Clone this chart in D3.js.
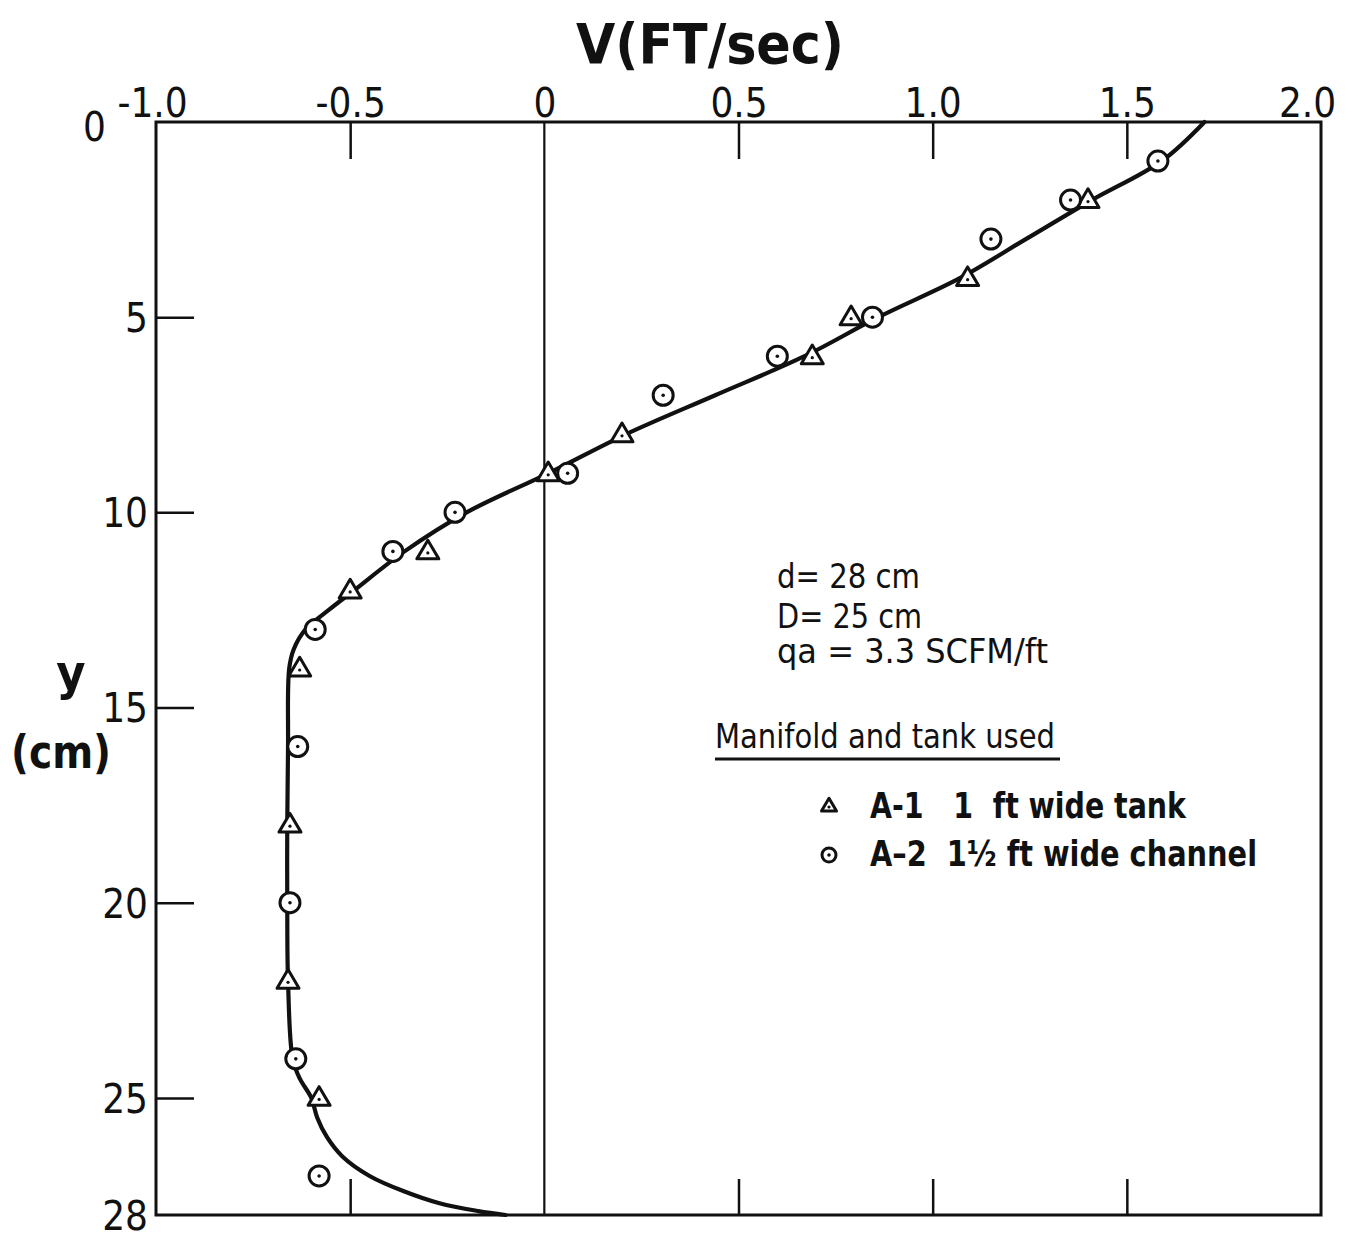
<!DOCTYPE html>
<html>
<head>
<meta charset="utf-8">
<script src="https://cdn.jsdelivr.net/npm/d3@7"></script>
<style>
  body { margin: 0; background: #fff; }
  svg text { font-family: "DejaVu Sans Condensed", "DejaVu Sans", sans-serif; font-stretch: condensed; fill: #111; white-space: pre; }
</style>
</head>
<body>
<div id="chart"></div>
<script>
// tick values
var xTicks = [-1.0, -0.5, 0, 0.5, 1.0, 1.5, 2.0];
var xTickLabels = ["-1.0", "-0.5", "0", "0.5", "1.0", "1.5", "2.0"];
var yTicks = [0, 5, 10, 15, 20, 25, 28];

// A-1  1 ft wide tank (triangles)
var a1V = [1.40, 1.09, 0.79, 0.69, 0.20, 0.01, -0.30, -0.50, -0.63, -0.655, -0.66, -0.58];
var a1Y = [2, 4, 5, 6, 8, 9, 11, 12, 14, 18, 22, 25];

// A-2  1 1/2 ft wide channel (circles)
var a2V = [1.58, 1.355, 1.15, 0.845, 0.60, 0.306, 0.06, -0.23, -0.39, -0.59, -0.635, -0.655, -0.64, -0.58];
var a2Y = [1, 2, 3, 5, 6, 7, 9, 10, 11, 13, 16, 20, 24, 27];

// fitted curve
var curveY = [0, 1, 2, 3, 4, 5, 6, 7, 8, 9, 10, 11, 12, 12.5, 13, 13.5, 14, 16, 18, 20, 22, 24, 24.5, 25, 25.5, 26, 26.5, 27, 27.4, 27.7, 27.9, 28];
var curveV = [1.70, 1.59, 1.41, 1.24, 1.07, 0.86, 0.67, 0.44, 0.21, 0.01, -0.20, -0.36, -0.49, -0.555, -0.615, -0.645, -0.657, -0.66, -0.662, -0.662, -0.66, -0.648, -0.63, -0.60, -0.585, -0.56, -0.52, -0.45, -0.36, -0.27, -0.17, -0.10];

var W = 1359, H = 1239;
var pLeft = 156, pRight = 1321, pTop = 122, pBottom = 1215;

var svg = d3.select("#chart").append("svg")
  .attr("width", W)
  .attr("height", H);

var x = d3.scaleLinear().domain([-1, 2]).range([pLeft, pRight]);
var y = d3.scaleLinear().domain([0, 28]).range([pTop, pBottom]);

// frame
svg.append("rect")
  .attr("x", pLeft).attr("y", pTop)
  .attr("width", pRight - pLeft).attr("height", pBottom - pTop)
  .attr("fill", "none").attr("stroke", "#111").attr("stroke-width", 3);

// zero line
svg.append("line")
  .attr("x1", x(0)).attr("x2", x(0))
  .attr("y1", pTop).attr("y2", pBottom)
  .attr("stroke", "#111").attr("stroke-width", 2.2);

// top axis
var topAxis = svg.append("g")
  .attr("transform", "translate(0," + pTop + ")")
  .call(d3.axisTop(x).tickValues(xTicks).tickSize(-37).tickPadding(5)
    .tickFormat(function(d, i) { return xTickLabels[i]; }));
topAxis.select(".domain").remove();
topAxis.selectAll(".tick line")
  .attr("stroke", "#111").attr("stroke-width", 2.5)
  .filter(function(d) { return d == -1 || d == 0 || d == 2; }).remove();
topAxis.selectAll(".tick text")
  .style("font-size", "40px").attr("fill", "#111")
  .attr("dx", function(d) { return d == -1 ? -4 : (d == 2 ? -14 : 0); });

// bottom ticks (no labels)
var botAxis = svg.append("g")
  .attr("transform", "translate(0," + pBottom + ")")
  .call(d3.axisBottom(x).tickValues([-0.5, 0.5, 1.0, 1.5]).tickSize(-36).tickFormat(""));
botAxis.select(".domain").remove();
botAxis.selectAll(".tick line").attr("stroke", "#111").attr("stroke-width", 2.5);

// left axis
var leftAxis = svg.append("g")
  .attr("transform", "translate(" + pLeft + ",0)")
  .call(d3.axisLeft(y).tickValues(yTicks).tickSize(-38).tickPadding(8));
leftAxis.select(".domain").remove();
leftAxis.selectAll(".tick line")
  .attr("stroke", "#111").attr("stroke-width", 2.5)
  .filter(function(d) { return d == 0 || d == 28; }).remove();
leftAxis.selectAll(".tick text")
  .style("font-size", "40px").attr("fill", "#111")
  .attr("x", function(d) { return d == 0 ? -50 : -8; })
  .attr("dy", function(d) { return d == 0 ? "0.45em" : "0.36em"; });

// fitted curve
var pts = curveY.map(function(d, i) { return [curveV[i], d]; });
var line = d3.line()
  .x(function(d) { return x(d[0]); })
  .y(function(d) { return y(d[1]); })
  .curve(d3.curveCatmullRom.alpha(0.5));
svg.append("path")
  .datum(pts)
  .attr("d", line)
  .attr("fill", "none").attr("stroke", "#111").attr("stroke-width", 4.2)
  .attr("stroke-linecap", "round");

// markers
function triangle(g, cx, cy, s) {
  var h = s * 0.85;
  g.append("path")
    .attr("d", "M" + cx + "," + (cy - h * 0.6) + "L" + (cx + s / 2) + "," + (cy + h * 0.4) + "L" + (cx - s / 2) + "," + (cy + h * 0.4) + "Z")
    .attr("fill", "#fff").attr("stroke", "#111").attr("stroke-width", 3).attr("stroke-linejoin", "round");
  g.append("circle").attr("cx", cx).attr("cy", cy + h * 0.08).attr("r", 1.6).attr("fill", "#111");
}
function ring(g, cx, cy, r) {
  g.append("circle").attr("cx", cx).attr("cy", cy).attr("r", r)
    .attr("fill", "#fff").attr("stroke", "#111").attr("stroke-width", 3);
  g.append("circle").attr("cx", cx).attr("cy", cy).attr("r", 1.8).attr("fill", "#111");
}

var marks = svg.append("g");
a1V.forEach(function(v, i) { triangle(marks, x(v), y(a1Y[i]), 22); });
a2V.forEach(function(v, i) { ring(marks, x(v), y(a2Y[i]), 10); });

// axis titles
svg.append("text")
  .attr("x", 710).attr("y", 63)
  .attr("text-anchor", "middle")
  .style("font-size", "56px").style("font-weight", "bold")
  .attr("textLength", 268).attr("lengthAdjust", "spacingAndGlyphs")
  .text("V(FT/sec)");
svg.append("text")
  .attr("x", 71).attr("y", 690)
  .attr("text-anchor", "middle")
  .style("font-size", "50px").style("font-weight", "bold")
  .text("y");
svg.append("text")
  .attr("x", 61).attr("y", 768)
  .attr("text-anchor", "middle")
  .style("font-size", "46px").style("font-weight", "bold")
  .attr("textLength", 100).attr("lengthAdjust", "spacingAndGlyphs")
  .text("(cm)");

// annotations
var notes = [["d= 28 cm", 588, 143], ["D= 25 cm", 628, 145], ["qa = 3.3 SCFM/ft", 663, 271]];
notes.forEach(function(n) {
  svg.append("text")
    .attr("x", 777).attr("y", n[1])
    .style("font-size", "33px")
    .attr("textLength", n[2]).attr("lengthAdjust", "spacingAndGlyphs")
    .text(n[0]);
});
svg.append("text")
  .attr("x", 715).attr("y", 748)
  .style("font-size", "34px")
  .attr("textLength", 340).attr("lengthAdjust", "spacingAndGlyphs")
  .text("Manifold and tank used");
svg.append("line")
  .attr("x1", 715).attr("x2", 1060).attr("y1", 759).attr("y2", 759)
  .attr("stroke", "#111").attr("stroke-width", 3);

var legend = svg.append("g");
triangle(legend, 829, 806, 15);
ring(legend, 829, 855, 7);
svg.append("text")
  .attr("x", 870).attr("y", 818)
  .style("font-size", "36px").style("font-weight", "bold")
  .attr("textLength", 316).attr("lengthAdjust", "spacingAndGlyphs")
  .text("A-1   1  ft wide tank");
svg.append("text")
  .attr("x", 870).attr("y", 866)
  .style("font-size", "36px").style("font-weight", "bold")
  .attr("textLength", 387).attr("lengthAdjust", "spacingAndGlyphs")
  .text("A\u20132  1\u00bd ft wide channel");
</script>
</body>
</html>
